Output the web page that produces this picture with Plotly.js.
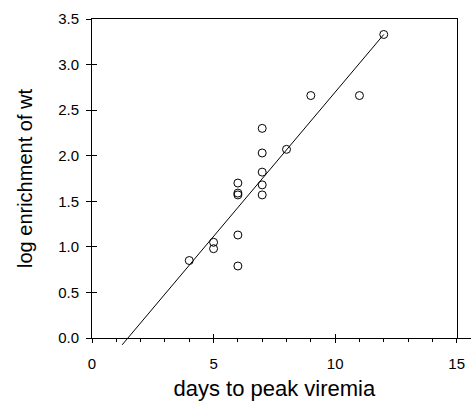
<!DOCTYPE html>
<html>
<head>
<meta charset="utf-8">
<script src="https://cdn.plot.ly/plotly-3.0.1.min.js"></script>
<style>html,body{margin:0;padding:0;background:#fff;}#chart{width:471px;height:401px;}</style>
</head>
<body>
<div id="chart"></div>
<script>
// Data
var days = [4, 5, 5, 6, 6, 6, 6, 6, 7, 7, 7, 7, 7, 8, 9, 11, 12];
var logEnrichment = [0.85, 1.05, 0.98, 1.13, 0.79, 1.70, 1.59, 1.57, 2.30, 2.03, 1.82, 1.68, 1.57, 2.07, 2.66, 2.66, 3.33];
var fitX = [1.24, 12];
var fitY = [-0.075, 3.33];
var xTicks = [0, 5, 10, 15];
var yTicks = [0, 0.5, 1.0, 1.5, 2.0, 2.5, 3.0, 3.5];

var W = 471, H = 401;
var mt = 19, mb = 53, ml = 92, mr = 1;
var plotH = H - mt - mb;
var ext = 10;
var yDomLow = ext / plotH;
var plotW = W - ml - mr;
var frameW = 364.7;
var xDomHigh = frameW / plotW;
var xRange = [0, 15];
var yRange = [0, 3.5];
var y3Range = [-(yRange[1] - yRange[0]) * ext / (plotH - ext), yRange[1]];
var x3Range = [0, xRange[1] / xDomHigh];

var font = "Liberation Sans, Arial, sans-serif";

function ghost(xa, ya) {
  return {x: days, y: logEnrichment, xaxis: xa, yaxis: ya, mode: 'markers',
          marker: {opacity: 0, size: 1}, hoverinfo: 'skip', showlegend: false};
}

var traces = [
  ghost('x2', 'y2'),
  ghost('x3', 'y'),
  {
    x: fitX, y: fitY, xaxis: 'x', yaxis: 'y3',
    mode: 'lines', line: {color: '#000', width: 1},
    hoverinfo: 'skip', showlegend: false
  },
  {
    x: days, y: logEnrichment, xaxis: 'x', yaxis: 'y',
    mode: 'markers',
    marker: {symbol: 'circle-open', size: 8, color: '#000', line: {width: 1, color: '#000'}},
    cliponaxis: false, showlegend: false
  }
];

var layout = {
  width: W, height: H,
  margin: {l: ml, r: mr, t: mt, b: mb, pad: 0},
  paper_bgcolor: '#fff', plot_bgcolor: 'rgba(0,0,0,0)',
  showlegend: false,
  font: {family: font, color: '#000'},
  xaxis: {
    domain: [0, xDomHigh], range: xRange, anchor: 'y',
    showgrid: false, zeroline: false,
    showline: true, linecolor: '#000', linewidth: 1, mirror: true,
    ticks: 'outside', ticklen: 4, tickwidth: 1, tickcolor: '#000',
    tickvals: xTicks, ticktext: xTicks.map(String),
    minor: {dtick: 1, ticks: 'outside', ticklen: 3, tickwidth: 1, tickcolor: '#000', showgrid: false},
    tickfont: {size: 15, family: font, color: '#000'},
    ticklabelstandoff: 8,
    title: {text: 'days to peak viremia', font: {size: 22, family: font, color: '#000'}, standoff: 9}
  },
  xaxis2: {
    overlaying: 'x', anchor: 'y', side: 'bottom', range: xRange,
    showgrid: false, zeroline: false, showline: false,
    ticks: 'inside', ticklen: 4, tickwidth: 1, tickcolor: '#000',
    tickvals: xTicks, showticklabels: false
  },
  xaxis3: {
    domain: [0, 1], range: x3Range, anchor: 'y',
    showgrid: false, zeroline: false,
    showline: true, linecolor: '#000', linewidth: 1,
    ticks: '', showticklabels: false
  },
  yaxis: {
    domain: [yDomLow, 1], range: yRange, anchor: 'x',
    showgrid: false, zeroline: false,
    showline: true, linecolor: '#000', linewidth: 1, mirror: true,
    ticks: 'outside', ticklen: 5, tickwidth: 1, tickcolor: '#000',
    tickvals: yTicks, tickformat: '.1f',
    tickfont: {size: 15, family: font, color: '#000'},
    ticklabelstandoff: 4,
    title: {text: 'log enrichment of wt', font: {size: 20, family: font, color: '#000'}, standoff: 20}
  },
  yaxis2: {
    overlaying: 'y', anchor: 'x', side: 'left', range: yRange,
    showgrid: false, zeroline: false, showline: false,
    ticks: 'inside', ticklen: 5, tickwidth: 1, tickcolor: '#000',
    tickvals: yTicks, showticklabels: false
  },
  yaxis3: {
    domain: [0, 1], range: y3Range, anchor: 'x',
    visible: false, showgrid: false, zeroline: false
  }
};

Plotly.newPlot('chart', traces, layout, {displayModeBar: false, staticPlot: true});
</script>
</body>
</html>
